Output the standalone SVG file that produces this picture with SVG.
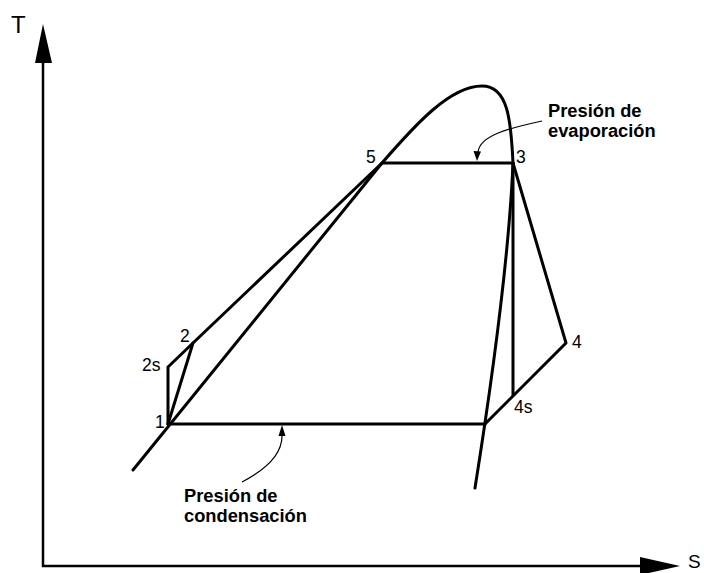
<svg xmlns="http://www.w3.org/2000/svg" width="704" height="573" viewBox="0 0 704 573">
<defs>
<style>
.ln{fill:none;stroke:#000;stroke-width:3;stroke-linejoin:round;stroke-linecap:round}
.ax{fill:none;stroke:#000;stroke-width:2.5}
.ld{fill:none;stroke:#000;stroke-width:1.2}
.num{font-family:"Liberation Sans",Arial,sans-serif;font-size:17.5px;fill:#000}
.lbl{font-family:"Liberation Sans",Arial,sans-serif;font-size:18.3px;font-weight:bold;fill:#000}
.axl{font-family:"Liberation Sans",Arial,sans-serif;font-size:24px;fill:#000}
</style>
</defs>
<rect width="704" height="573" fill="#fff"/>
<g id="axes">
<path class="ax" d="M43 63 V566 H641"/>
<polygon points="43,24 35,63 52,63"/>
<polygon points="680,566 640,557 640,575"/>
<text class="axl" x="11" y="33">T</text>
<text class="axl" x="688" y="568" style="font-size:19px">S</text>
</g>
<g id="dome">
<path class="ln" d="M133 470 L382 163 C415 125 450 86 482 86 C508 86 511 120 513 163 Q508 280 475 488"/>
</g>
<g id="cycle">
<path class="ln" d="M168 424 H485"/>
<path class="ln" d="M382 163 H513"/>
<path class="ln" d="M168 424 V367 L193 343 L382 163"/>
<path class="ln" d="M168 424 L193 343"/>
<path class="ln" d="M513 163 V395"/>
<path class="ln" d="M513 163 L566 343 L485 424"/>
</g>
<g id="leaders">
<path class="ld" d="M542 121 C510 128 480 135 478 152"/>
<polygon points="477,161 473.5,151 481,151.5"/>
<path class="ld" d="M242 482 C265 470 282 455 282 436"/>
<polygon points="282,425 278.5,436 285.5,436"/>
</g>
<g id="labels">
<text class="num" x="155" y="428">1</text>
<text class="num" x="180" y="342">2</text>
<text class="num" x="142" y="371">2s</text>
<text class="num" x="366" y="163">5</text>
<text class="num" x="516" y="163">3</text>
<text class="num" x="572" y="348">4</text>
<text class="num" x="514" y="413">4s</text>
<text class="lbl" x="548" y="117">Presión de</text>
<text class="lbl" x="548" y="137">evaporación</text>
<text class="lbl" x="184" y="502">Presión de</text>
<text class="lbl" x="184" y="522">condensación</text>
</g>
</svg>
